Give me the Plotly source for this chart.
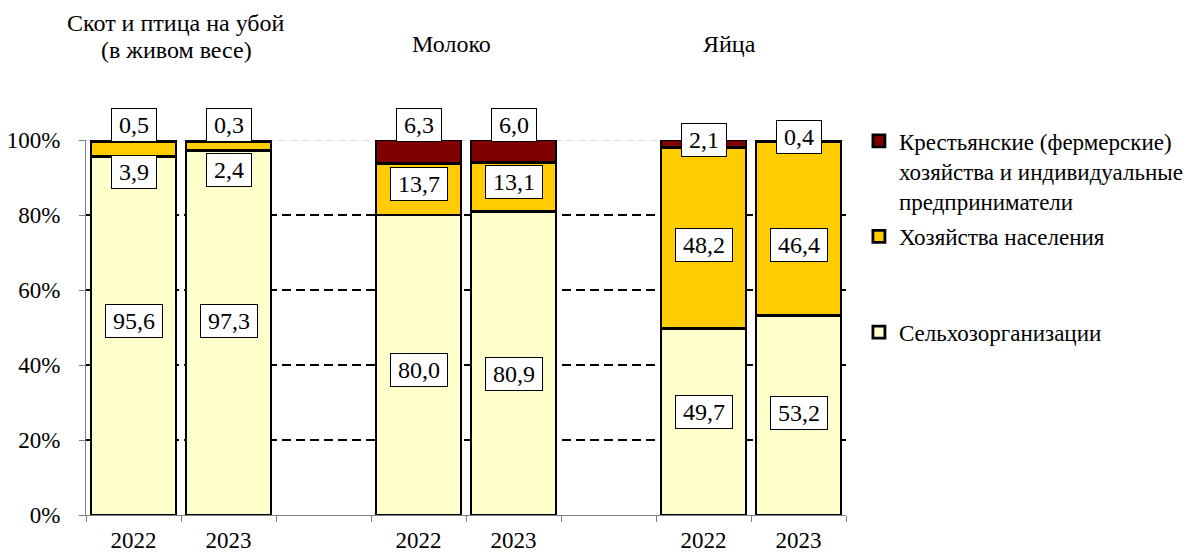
import plotly.graph_objects as go

# ---- data ----
groups = ["Скот и птица на убой<br>(в живом весе)", "Молоко", "Яйца"]
years = ["2022", "2023"]
selhoz = [95.6, 97.3, 80.0, 80.9, 49.7, 53.2]        # Сельхозорганизации
naselenie = [3.9, 2.4, 13.7, 13.1, 48.2, 46.4]       # Хозяйства населения
fermery = [0.5, 0.3, 6.3, 6.0, 2.1, 0.4]             # КФХ и ИП
series_names = [
    "Сельхозорганизации",
    "Хозяйства населения",
    "Крестьянские (фермерские)<br>хозяйства и индивидуальные<br>предприниматели",
]
y_ticks = [0, 20, 40, 60, 80, 100]
y_ticktext = ["0%", "20%", "40%", "60%", "80%", "100%"]

# ---- layout helpers ----
FONT = "Liberation Serif"
colors = ["#FFFFCC", "#FFCC00", "#800000"]
slots_per_group = 3
xpos = [g * slots_per_group + i for g in range(len(groups)) for i in range(len(years))]
xlabels = [y for _ in groups for y in years]

# page body has an 8px margin -> shrink figure so the plot area lands where the original is
W, H = 1188, 544
ML, MR, MT, MB = 78, 350, 132, 37
PLOT_TOP_PX, PLOT_H = 8 + MT, H - MT - MB   # in window pixels

# label placement (layout, in axis % units)
label_y = {
    0: [51.7, 51.7, 38.7, 37.6, 27.4, 27.2],
    1: [91.5, 92.0, 88.3, 88.8, 72.1, 72.0],
    2: [104.0, 104.0, 104.0, 104.0, 100.1, 100.8],
}

fig = go.Figure()
all_series = [selhoz, naselenie, fermery]
legend_ids = ["legend3", "legend2", "legend"]
for k, vals in enumerate(all_series):
    fig.add_trace(go.Bar(
        x=xpos, y=vals, name=series_names[k],
        marker=dict(color=colors[k], line=dict(color="black", width=2.8)),
        legend=legend_ids[k], cliponaxis=False, showlegend=True,
        hovertemplate="%{y:.1f}<extra></extra>",
    ))

annotations = []
def fmt(v):
    return f"{v:.1f}".replace(".", ",")

def text_w(s):
    return sum(6 if c == "," else 12 for c in s)

for k, vals in enumerate(all_series):
    for j, v in enumerate(vals):
        t = fmt(v)
        annotations.append(dict(
            x=xpos[j], y=label_y[k][j] / 100, xref="x", yref="paper", text=t, showarrow=False,
            font=dict(family=FONT, size=24, color="black"),
            bgcolor="white", bordercolor="black", borderwidth=1, borderpad=3,
            width=text_w(t) + 8, align="center", yanchor="middle",
        ))

# group titles (slightly offset like the original), one annotation per line
title_x = [0.45, 3.35, 6.27]
title_py = [[23, 50], [44], [44]]   # window-pixel centres of each line
def py_to_paper(py):
    return (PLOT_TOP_PX + PLOT_H - py) / PLOT_H
for g, name in enumerate(groups):
    for line, py in zip(name.split("<br>"), title_py[g]):
        annotations.append(dict(
            x=title_x[g], y=py_to_paper(py), xref="x", yref="paper",
            text=line, showarrow=False, yanchor="middle",
            font=dict(family=FONT, size=24, color="black"), align="center",
        ))

shapes = []
for yv in y_ticks[1:-1]:
    shapes.append(dict(type="line", xref="paper", yref="y", x0=0, x1=1, y0=yv, y1=yv,
                       line=dict(color="black", width=2, dash="9px,5px"), layer="below"))
shapes.append(dict(type="line", xref="paper", yref="y", x0=0, x1=1, y0=100, y1=100,
                   line=dict(color="#C8C8C8", width=1, dash="8px,4px"), layer="below"))

leg_common = dict(font=dict(family=FONT, size=23, color="black"), bgcolor="rgba(0,0,0,0)",
                  xanchor="left", yanchor="top", x=1.017, valign="top",
                  itemclick=False, itemdoubleclick=False)

fig.update_layout(
    width=W, height=H,
    margin=dict(l=ML, r=MR, t=MT, b=MB, autoexpand=False),
    paper_bgcolor="white", plot_bgcolor="white",
    barmode="stack", bargap=0.105, showlegend=True,
    font=dict(family=FONT, size=23, color="black"),
    annotations=annotations, shapes=shapes,
    legend=dict(**leg_common, y=1.055),
    legend2=dict(**leg_common, y=0.80),
    legend3=dict(**leg_common, y=0.545),
    xaxis=dict(
        range=[-0.5, 7.5], tickvals=xpos, ticktext=xlabels, automargin=False,
        ticks="outside", ticklen=4, tickcolor="rgba(0,0,0,0)",
        showgrid=False, zeroline=False, showline=True, linecolor="#808080", linewidth=1,
        tickfont=dict(family=FONT, size=23, color="black"),
        minor=dict(tickvals=[i - 0.5 for i in range(9)], ticks="outside", ticklen=6,
                   tickcolor="#808080", showgrid=False),
        fixedrange=True,
    ),
    yaxis=dict(
        range=[0, 100], tickvals=y_ticks, ticktext=y_ticktext, automargin=False,
        ticks="outside", ticklen=6, tickcolor="#808080", ticklabelstandoff=14,
        showgrid=False, zeroline=False, showline=True, linecolor="#808080", linewidth=1,
        tickfont=dict(family=FONT, size=23, color="black"),
        fixedrange=True,
    ),
)

fig.write_html("out.html")
